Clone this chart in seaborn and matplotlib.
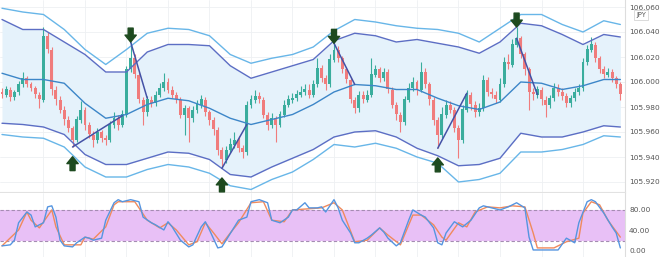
import numpy as np
import pandas as pd
import matplotlib
matplotlib.use("Agg")
import matplotlib.pyplot as plt
from matplotlib.transforms import offset_copy
import seaborn as sns

# ---------------- data ----------------
first_open = 105.992
closes = [105.990, 105.994, 105.988, 105.992, 105.998, 106.003, 105.998, 105.995, 105.990, 105.986,
          106.037, 106.026, 105.994, 105.986, 105.978, 105.970, 105.963, 105.954, 105.970, 105.978,
          105.966, 105.958, 105.954, 105.960, 105.955, 105.954, 105.966, 105.971, 105.966, 105.974,
          106.010, 106.019, 106.006, 105.986, 105.976, 105.986, 105.983, 105.990, 105.995, 106.000,
          105.994, 105.990, 105.986, 105.974, 105.979, 105.971, 105.978, 105.982, 105.986, 105.976,
          105.970, 105.962, 105.946, 105.938, 105.946, 105.950, 105.954, 105.947, 105.944, 105.982,
          105.986, 105.989, 105.986, 105.974, 105.966, 105.971, 105.966, 105.974, 105.982, 105.986,
          105.987, 105.990, 105.992, 105.994, 105.990, 105.998, 106.011, 106.003, 105.998, 106.018,
          106.026, 106.019, 106.010, 106.002, 105.986, 105.979, 105.990, 105.986, 105.990, 106.006,
          106.010, 106.003, 106.008, 105.994, 105.982, 105.974, 105.968, 105.986, 105.995, 106.000,
          105.994, 106.008, 105.998, 105.986, 105.970, 105.958, 105.974, 105.982, 105.978, 105.963,
          105.954, 105.978, 105.990, 105.982, 105.976, 105.979, 106.002, 105.992, 105.990, 105.986,
          105.998, 106.016, 106.014, 106.030, 106.035, 106.022, 106.010, 105.992, 105.990, 105.994,
          105.986, 105.982, 105.987, 105.995, 105.992, 105.989, 105.983, 105.987, 105.992, 105.995,
          106.016, 106.026, 106.030, 106.019, 106.010, 106.006, 106.008, 106.003, 105.998, 105.990]
highs = [105.995, 105.997, 105.996, 105.994, 106.001, 106.008, 106.005, 106.000, 105.997, 105.992,
         106.044, 106.040, 106.028, 105.997, 105.989, 105.981, 105.973, 105.965, 105.973, 105.985,
         105.980, 105.968, 105.961, 105.963, 105.962, 105.958, 105.969, 105.976, 105.974, 105.978,
         106.013, 106.032, 106.022, 106.008, 105.988, 105.989, 105.989, 105.993, 105.999, 106.007,
         106.003, 105.997, 105.992, 105.988, 105.982, 105.981, 105.981, 105.986, 105.990, 105.988,
         105.978, 105.972, 105.964, 105.948, 105.949, 105.955, 105.960, 105.957, 105.950, 105.985,
         105.990, 105.994, 105.992, 105.988, 105.976, 105.975, 105.973, 105.977, 105.986, 105.990,
         105.991, 105.994, 105.997, 105.998, 105.998, 106.002, 106.019, 106.014, 106.006, 106.022,
         106.031, 106.029, 106.021, 106.012, 106.004, 105.988, 105.993, 105.993, 105.994, 106.019,
         106.014, 106.012, 106.011, 106.010, 105.996, 105.984, 105.976, 105.989, 105.999, 106.004,
         106.002, 106.016, 106.011, 106.000, 105.988, 105.972, 105.980, 105.986, 105.985, 105.980,
         105.966, 105.982, 105.994, 105.992, 105.985, 105.983, 106.006, 106.004, 105.995, 105.993,
         106.003, 106.020, 106.022, 106.034, 106.044, 106.037, 106.024, 106.012, 105.995, 105.997,
         105.996, 105.989, 105.990, 105.999, 105.998, 105.995, 105.991, 105.990, 105.995, 105.998,
         106.019, 106.030, 106.036, 106.032, 106.021, 106.013, 106.011, 106.010, 106.005, 106.000]
lows = [105.987, 105.988, 105.985, 105.986, 105.990, 105.996, 105.996, 105.993, 105.987, 105.979,
        105.984, 106.023, 105.990, 105.982, 105.975, 105.966, 105.960, 105.948, 105.952, 105.967,
        105.962, 105.955, 105.948, 105.951, 105.952, 105.950, 105.952, 105.963, 105.962, 105.964,
        105.972, 106.008, 106.003, 105.983, 105.966, 105.973, 105.980, 105.981, 105.988, 105.993,
        105.991, 105.987, 105.983, 105.971, 105.958, 105.952, 105.968, 105.975, 105.979, 105.973,
        105.966, 105.958, 105.942, 105.931, 105.935, 105.943, 105.947, 105.944, 105.939, 105.942,
        105.979, 105.983, 105.983, 105.971, 105.962, 105.963, 105.952, 105.964, 105.972, 105.980,
        105.983, 105.985, 105.988, 105.990, 105.987, 105.988, 105.996, 106.000, 105.994, 105.996,
        106.016, 106.016, 106.007, 105.999, 105.983, 105.975, 105.976, 105.983, 105.984, 105.988,
        106.004, 106.000, 106.001, 105.991, 105.979, 105.970, 105.960, 105.966, 105.984, 105.993,
        105.990, 105.992, 105.995, 105.982, 105.966, 105.947, 105.955, 105.971, 105.975, 105.960,
        105.939, 105.951, 105.976, 105.978, 105.972, 105.973, 105.977, 105.989, 105.987, 105.983,
        105.984, 105.996, 106.010, 106.012, 106.028, 106.019, 106.006, 105.978, 105.986, 105.987,
        105.982, 105.972, 105.979, 105.985, 105.989, 105.986, 105.980, 105.980, 105.985, 105.990,
        105.993, 106.014, 106.024, 106.016, 106.007, 106.003, 106.004, 106.000, 105.995, 105.986]

band_idx = list(range(0, 150, 5)) + [149]
band_mid = [106.007, 106.002, 106.002, 105.999, 105.983, 105.971, 105.974, 105.982, 105.987, 105.985,
            105.979, 105.971, 105.966, 105.970, 105.974, 105.982, 105.992, 105.998, 105.997, 105.994,
            105.994, 105.987, 105.981, 105.978, 105.984, 106.000, 105.999, 105.994, 105.997, 106.002,
            106.002]
band_up_outer = [106.059, 106.056, 106.054, 106.042, 106.026, 106.014, 106.026, 106.039, 106.043, 106.042,
                 106.037, 106.022, 106.015, 106.019, 106.022, 106.028, 106.041, 106.050, 106.048, 106.045,
                 106.043, 106.042, 106.039, 106.032, 106.043, 106.054, 106.054, 106.046, 106.040, 106.049,
                 106.046]
band_up_inner = [106.050, 106.042, 106.042, 106.032, 106.022, 106.008, 106.008, 106.024, 106.030, 106.030,
                 106.029, 106.013, 106.003, 106.008, 106.013, 106.018, 106.033, 106.039, 106.037, 106.032,
                 106.034, 106.031, 106.028, 106.023, 106.032, 106.047, 106.045, 106.038, 106.030, 106.038,
                 106.036]
band_lo_inner = [105.967, 105.966, 105.964, 105.958, 105.942, 105.934, 105.934, 105.939, 105.944, 105.943,
                 105.938, 105.926, 105.924, 105.932, 105.939, 105.946, 105.956, 105.960, 105.961, 105.956,
                 105.947, 105.941, 105.933, 105.934, 105.939, 105.959, 105.956, 105.956, 105.960, 105.965,
                 105.964]
band_lo_outer = [105.958, 105.956, 105.955, 105.948, 105.932, 105.924, 105.924, 105.930, 105.934, 105.932,
                 105.927, 105.917, 105.914, 105.922, 105.928, 105.938, 105.950, 105.948, 105.951, 105.947,
                 105.940, 105.935, 105.920, 105.922, 105.927, 105.944, 105.944, 105.946, 105.950, 105.957,
                 105.956]

k_idx = [0, 2, 3, 4, 6, 7, 8, 10, 11, 12, 13, 14, 15, 17, 18, 20, 21, 22, 24, 25,
         27, 28, 29, 31, 33, 34, 36, 37, 39, 40, 41, 43, 45, 46, 48, 49, 50, 52, 53, 54,
         56, 57, 59, 60, 62, 64, 65, 67, 69, 70, 71, 73, 74, 76, 77, 78, 80, 81, 82, 84,
         85, 86, 88, 89, 91, 92, 93, 95, 96, 98, 99, 101, 102, 104, 105, 106, 107, 109, 111, 113,
         115, 116, 118, 120, 122, 124, 126, 127, 128, 130, 134, 136, 138, 139, 141, 142, 143, 145, 147, 148,
         149]
k_val = [10, 12, 21, 55, 76, 70, 47, 55, 86, 88, 66, 21, 10, 8, 16, 27, 25, 21, 25, 60,
         94, 100, 96, 100, 96, 66, 55, 51, 41, 57, 47, 21, 8, 12, 47, 57, 41, 6, 8, 21,
         47, 60, 66, 96, 100, 94, 60, 55, 66, 80, 80, 94, 84, 84, 86, 76, 100, 84, 60, 35,
         16, 16, 25, 31, 45, 37, 25, 10, 16, 60, 80, 70, 66, 45, 16, 12, 35, 57, 47, 60,
         84, 88, 84, 80, 86, 94, 84, 27, 2, 2, 2, 25, 16, 55, 96, 100, 96, 74, 47, 35,
         6]
d_idx = [0, 4, 6, 7, 9, 12, 13, 15, 19, 20, 22, 25, 27, 28, 32, 35, 38, 40, 42, 45,
         47, 49, 51, 53, 55, 57, 60, 63, 65, 68, 70, 77, 80, 82, 85, 88, 91, 93, 96, 99,
         101, 104, 106, 107, 110, 112, 114, 117, 120, 123, 126, 128, 129, 133, 136, 139, 140, 142, 144, 146,
         149]
d_val = [10, 41, 76, 60, 45, 80, 47, 12, 12, 27, 23, 47, 90, 96, 96, 60, 45, 55, 41, 12,
         18, 55, 35, 14, 35, 55, 94, 96, 60, 57, 80, 84, 94, 80, 18, 21, 45, 31, 12, 70,
         70, 51, 27, 21, 55, 47, 76, 86, 84, 88, 86, 35, 6, 6, 18, 25, 74, 96, 90, 60,
         27]

down_arrow_idx = [31, 80, 124]
up_arrow_idx = [17, 53, 105]
seg_x0 = [17, 31, 53, 80, 105, 124]
seg_y0 = [105.948, 106.032, 105.931, 106.031, 105.947, 106.035]
seg_x1 = [29, 35, 59, 85, 112, 129]
seg_y1 = [105.973, 105.987, 105.966, 105.998, 105.991, 105.990]

price_ticks = [105.920, 105.940, 105.960, 105.980, 106.000, 106.020, 106.040, 106.060]
stoch_ticks = [0, 40, 80]
stoch_labels = ["0.00", "40.00", "80.00"]

# ---------------- style ----------------
sns.set_theme(style="white")
plt.rcParams['font.family'] = ['DejaVu Sans']

W, H = 660, 257
fig = plt.figure(figsize=(W / 100, H / 100), dpi=100)
right = 625 / W
ax = fig.add_axes([0, 1 - 192 / H, right, 192 / H])
ax2 = fig.add_axes([0, 0, right, 64 / H])

xlim = (-0.48, 150.12)
grid_c = '#eef0f3'

# ---- price panel ----
n = len(closes)
idx = np.arange(n)
opens = np.array([first_open] + closes[:-1])
cl = np.array(closes)
up = cl >= opens
green, red = '#3aad9d', '#f07c7c'
cols = np.where(up, green, red)

for g in range(10, 150, 10):
    ax.axvline(g, color=grid_c, lw=0.6, zorder=0)
    ax2.axvline(g, color=grid_c, lw=0.6, zorder=0)
for t in price_ticks:
    ax.axhline(t, color=grid_c, lw=0.6, zorder=0)

ax.fill_between(band_idx, band_lo_inner, band_up_inner, color='#e5f2fb', zorder=1, lw=0)

body_h = np.where(np.abs(cl - opens) < 0.0008, 0.0008, cl - opens)
ax.vlines(idx, lows, highs, colors=cols, lw=0.8, zorder=3)
ax.bar(idx, body_h, bottom=opens, width=0.7, color=cols, zorder=4, lw=0)

sns.lineplot(x=band_idx, y=band_up_outer, ax=ax, color='#68b6e8', lw=1.0, zorder=5, estimator=None)
sns.lineplot(x=band_idx, y=band_lo_outer, ax=ax, color='#68b6e8', lw=1.0, zorder=5, estimator=None)
sns.lineplot(x=band_idx, y=band_up_inner, ax=ax, color='#5c6ec4', lw=1.0, zorder=5, estimator=None)
sns.lineplot(x=band_idx, y=band_lo_inner, ax=ax, color='#5c6ec4', lw=1.0, zorder=5, estimator=None)
sns.lineplot(x=band_idx, y=band_mid, ax=ax, color='#3c86c8', lw=1.0, zorder=5, estimator=None)

for a, b, c, d in zip(seg_x0, seg_y0, seg_x1, seg_y1):
    ax.plot([a, c], [b, d], color='#4452a6', lw=1.1, zorder=6)

arrow_c = '#1d4a1f'
astyle = 'simple,head_length=0.55,head_width=0.9,tail_width=0.4'
for i in down_arrow_idx:
    ax.annotate('', xy=(i, highs[i]), xytext=(0, 10), textcoords='offset points',
                arrowprops=dict(arrowstyle=astyle, color=arrow_c, shrinkA=0, shrinkB=0,
                                mutation_scale=9), zorder=7)
tr_down = offset_copy(ax.transData, fig=fig, x=0, y=-7, units='points')
for i in up_arrow_idx:
    ax.annotate('', xy=(i, lows[i]), xycoords=tr_down, xytext=(0, -10), textcoords='offset points',
                arrowprops=dict(arrowstyle=astyle, color=arrow_c, shrinkA=0, shrinkB=0,
                                mutation_scale=9), zorder=7)

ax.set_xlim(*xlim)
ax.set_ylim(105.912, 106.0656)
ax.yaxis.tick_right()
ax.set_yticks(price_ticks)
ax.set_yticklabels([f"{t:.3f}" for t in price_ticks])
ax.tick_params(axis='y', length=0, labelsize=5.3, labelcolor='#555555', pad=3)
ax.set_xticks([])
ax.set_xlabel('')
ax.set_ylabel('')
for s in ax.spines.values():
    s.set_visible(False)
ax.spines['right'].set_visible(True)
ax.spines['right'].set_color('#dddddd')
ax.spines['right'].set_linewidth(0.8)
ax.spines['bottom'].set_visible(True)
ax.spines['bottom'].set_color('#e2e2e2')
ax.spines['bottom'].set_linewidth(0.8)

fig.text(641 / W, 1 - 15 / H, 'JPY', fontsize=4.8, color='#555555', ha='center', va='center',
         bbox=dict(boxstyle='square,pad=0.25', fc='white', ec='#cccccc', lw=0.5))

# ---- stochastic panel ----
ax2.axhspan(20, 80, color='#e8c0f6', zorder=0, lw=0)
ax2.axhline(80, color='#a58cb2', lw=0.8, ls=(0, (3, 2)), zorder=1)
ax2.axhline(20, color='#a58cb2', lw=0.8, ls=(0, (3, 2)), zorder=1)
sns.lineplot(x=d_idx, y=d_val, ax=ax2, color='#f08a5d', lw=1.0, zorder=3, estimator=None)
sns.lineplot(x=k_idx, y=k_val, ax=ax2, color='#5595e0', lw=1.0, zorder=4, estimator=None)
ax2.set_xlim(*xlim)
ax2.set_ylim(-11.7, 113)
ax2.yaxis.tick_right()
ax2.set_yticks(stoch_ticks)
ax2.set_yticklabels(stoch_labels)
ax2.tick_params(axis='y', length=0, labelsize=5.3, labelcolor='#555555', pad=3)
ax2.set_xticks([])
ax2.set_xlabel('')
ax2.set_ylabel('')
for s in ax2.spines.values():
    s.set_visible(False)
ax2.spines['right'].set_visible(True)
ax2.spines['right'].set_color('#dddddd')
ax2.spines['right'].set_linewidth(0.8)

fig.savefig('out.png', dpi=100, facecolor='white')
